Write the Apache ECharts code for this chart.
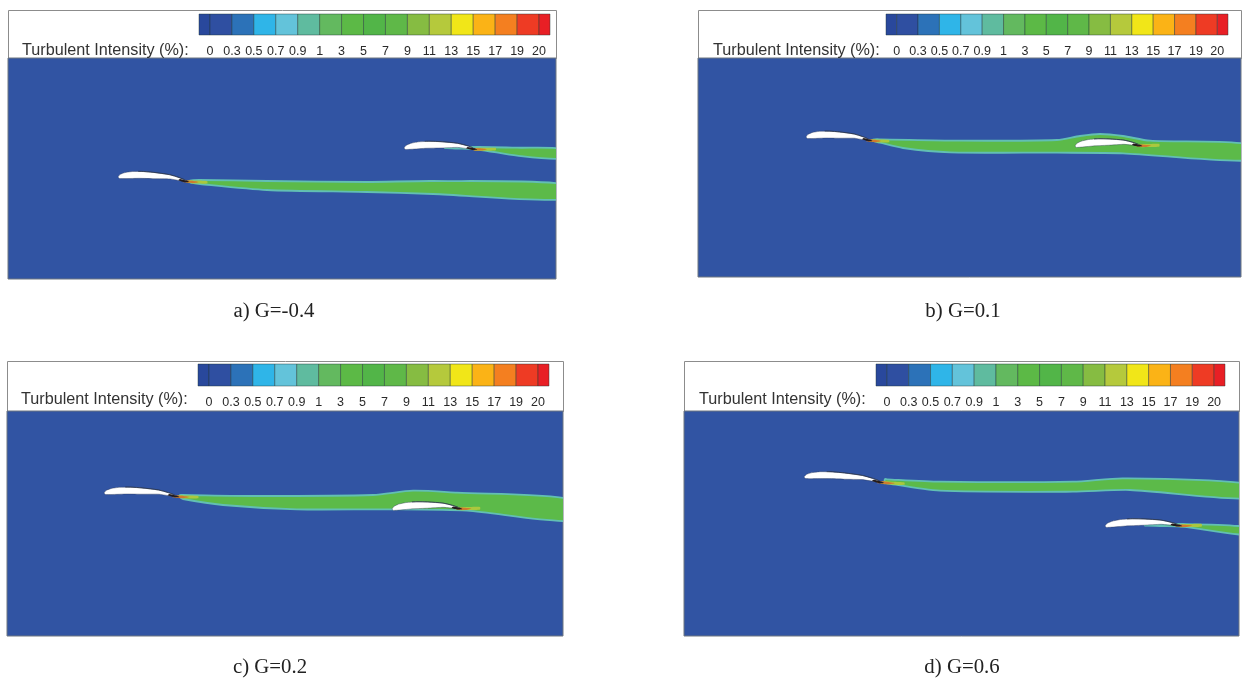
<!DOCTYPE html>
<html><head><meta charset="utf-8">
<style>html,body{margin:0;padding:0;background:#fff}#c{width:1246px;height:680px;filter:blur(0.45px)}</style>
<script src="https://cdn.jsdelivr.net/npm/echarts@6/dist/echarts.min.js"></script>
</head><body><div id="c"></div>
<script>
const scaleLabels = ['0','0.3','0.5','0.7','0.9','1','3','5','7','9','11','13','15','17','19','20'];
const bandColors = ['#29489c','#2f4fa1','#2c72b8','#2fb5e8','#63c3da','#5fbb9f','#63b95f','#5cb946','#52b548','#5fb848','#86bc42','#b5c93c','#f1e618','#fbb316','#f47f20','#ee3b24','#e81f25'];
const captions = ['a) G=-0.4','b) G=0.1','c) G=0.2','d) G=0.6'];
const scaleTitle = 'Turbulent Intensity (%):';

// Airfoil outline: fraction of chord along, offset from chord line
const foilUpper = [[0,0],[0.03,-2.8],[0.1,-5],[0.2,-6.5],[0.35,-7.2],[0.5,-7],[0.72,-5.8],[0.85,-3.6],[0.96,-0.8]];
const foilLower = [[0.85,-0.8],[0.72,-1.7],[0.5,-0.8],[0.3,-0.2],[0.1,1.1],[0.02,1.4]];

// Airfoil leading edge and tail as read per panel
const foilsA = [[118,177,190,182],[404,148,478,149.5]];
const foilsB = [[806,137,873,141],[1075,146,1143,146]];
const foilsC = [[104,493,180,497],[392,509,463,509]];
const foilsD = [[804,477,885,483],[1105,526,1183,526]];

// Wake contours as read per panel: upper edge then lower edge
const wakeA1Upper = [[190,180.5],[200,180],[267,181],[367,182],[433,181],[564,184]];
const wakeA1Lower = [[564,199.5],[433,194],[367,192],[267,190],[200,184],[190,182.5]];
const wakeA2Upper = [[478,147],[517,147.7],[564,149]];
const wakeA2Lower = [[564,158.6],[517,155.7],[478,149.5],[455,148.5],[445,148]];
const wakeB1Upper = [[873,139.5],[880,139.3],[957,140.7],[1057,140],[1080,136],[1100,134],[1123,136],[1150,140.7],[1249,144.3]];
const wakeB1Lower = [[1249,160.5],[1123,153.3],[1057,152.7],[950,152.3],[903,148],[880,142.7],[873,141]];
const wakeC1Upper = [[180,495],[183,495],[257,496],[373,495],[413,490.7],[457,492.7],[571,499.3]];
const wakeC1Lower = [[571,520.8],[467,510.7],[390,509.3],[297,509.3],[223,505],[183,499],[180,497]];
const wakeD1Upper = [[885,479],[887,479.3],[940,481.7],[1073,481.7],[1123,478.3],[1247,483.6]];
const wakeD1Lower = [[1247,498.5],[1130,490],[1073,491.7],[940,490.7],[887,483.3],[885,482]];
const wakeD2Upper = [[1183,524],[1247,527]];
const wakeD2Lower = [[1247,535],[1183,526.7],[1160,526],[1145,525.5]];

const panels = [
  {frame:[8,10,548,48],  bar:[199,14,351,21],  field:[8,58,548,221],  title:[22,43],  cap:[274,301], foils:foilsA, wakes:[[wakeA1Upper,wakeA1Lower],[wakeA2Upper,wakeA2Lower]]},
  {frame:[698,10,543,48],bar:[886,14,342,21],  field:[698,58,543,219],title:[713,43], cap:[963,301], foils:foilsB, wakes:[[wakeB1Upper,wakeB1Lower]]},
  {frame:[7,361,556,50], bar:[198,364,351,22], field:[7,411,556,225], title:[21,392], cap:[270,657], foils:foilsC, wakes:[[wakeC1Upper,wakeC1Lower]]},
  {frame:[684,361,555,50],bar:[876,364,349,22],field:[684,411,555,225],title:[699,392],cap:[962,657],foils:foilsD, wakes:[[wakeD1Upper,wakeD1Lower],[wakeD2Upper,wakeD2Lower]]}
];
const FIELD = '#3154a3';

function place(shape, f){
  const dx=f[2]-f[0], dy=f[3]-f[1];
  return shape.map(p=>[f[0]+p[0]*dx, f[1]+p[0]*dy+p[1]]);
}
const hotYellow = [[0.98,-1.6],[1.1,-1.9],[1.24,-2],[1.24,0.4],[1.1,1.1],[0.95,1.0]];
const hotOrange = [[0.92,-1.4],[1.02,-1.3],[1.12,-0.5],[1.04,1],[0.9,0.6]];
const hotDark = [[0.86,-2.4],[0.95,-1.2],[0.99,0],[0.93,0.6],[0.84,-1]];
const rearEdge = [[0.28,-7.1],[0.35,-7.3],[0.5,-7.1],[0.72,-5.9],[0.85,-3.7],[0.93,-1.8]];

const grids=[],xAxes=[],yAxes=[],series=[],titles=[],frames=[];
panels.forEach((p,k)=>{
  frames.push({type:'rect',z:-1,shape:{x:p.frame[0]+.5,y:p.frame[1]+.5,width:p.frame[2],height:p.frame[3]},style:{fill:'#fff',stroke:'#8c8c8c',lineWidth:1}});
  titles.push({text:scaleTitle,left:p.title[0],top:p.title[1],padding:0,textStyle:{fontFamily:'Liberation Sans',fontSize:16.2,fontWeight:'normal',color:'#333'}});
  titles.push({text:captions[k],left:p.cap[0],top:p.cap[1],textAlign:'center',padding:0,textStyle:{fontFamily:'Liberation Serif',fontSize:20.8,fontWeight:'normal',color:'#222'}});
  // colour scale
  const gi=grids.length;
  grids.push({left:p.bar[0],top:p.bar[1],width:p.bar[2],height:p.bar[3],containLabel:false});
  xAxes.push({gridIndex:gi,type:'value',min:-0.5,max:15.5,splitLine:{show:false},axisLine:{show:false},axisTick:{show:false},
    axisLabel:{show:true,customValues:scaleLabels.map((_,i)=>i),formatter:v=>scaleLabels[Math.round(v)],margin:10,fontFamily:'Liberation Sans',fontSize:12.5,color:'#2a2a2a',hideOverlap:false}});
  yAxes.push({gridIndex:gi,type:'value',min:0,max:1,show:false});
  series.push({type:'custom',xAxisIndex:gi,yAxisIndex:gi,silent:true,clip:false,
    data:bandColors.map((c,i)=>[i===0?-0.5:i-1,i===bandColors.length-1?15.5:i,1]),
    encode:{x:[0,1],y:2},
    renderItem:(params,api)=>{
      const a=api.coord([api.value(0),0]),b=api.coord([api.value(1),1]);
      return {type:'rect',shape:{x:a[0],y:b[1],width:b[0]-a[0],height:a[1]-b[1]},style:{fill:bandColors[params.dataIndex],stroke:'rgba(30,50,50,.55)',lineWidth:.8}};
    }});
  // field
  const fi=grids.length;
  grids.push({show:true,left:p.field[0],top:p.field[1],width:p.field[2],height:p.field[3],backgroundColor:FIELD,borderColor:'#6f7680',borderWidth:1,containLabel:false});
  xAxes.push({gridIndex:fi,type:'value',min:p.field[0],max:p.field[0]+p.field[2],show:false});
  yAxes.push({gridIndex:fi,type:'value',inverse:true,min:p.field[1],max:p.field[1]+p.field[3],show:false});
  const shapes=[];
  p.wakes.forEach(w=>shapes.push({pts:w[0].concat(w[1]),fill:'#5cba49',stroke:'#62bfb4',lw:1.8,smooth:0.25}));
  p.foils.forEach(f=>{
    shapes.push({pts:place(hotYellow,f),fill:'#aac83e',smooth:0.2});
    shapes.push({pts:place(hotOrange,f),fill:'#cf7a2e',smooth:0.2});
    shapes.push({pts:place(foilUpper.concat(foilLower),f),fill:'#fff',stroke:'#2b3550',lw:.4,smooth:0.12});
    shapes.push({pts:place(rearEdge,f),line:true,stroke:'#2a3348',lw:.8});
    shapes.push({pts:place(hotDark,f),fill:'#241c1c',smooth:0.2});
  });
  series.push({type:'custom',xAxisIndex:fi,yAxisIndex:fi,silent:true,clip:true,
    data:shapes.map(s=>s.pts[0]),encode:{x:0,y:1},
    renderItem:(params,api)=>{
      const s=shapes[params.dataIndex];
      const pts=s.pts.map(q=>api.coord(q));
      return s.line
       ? {type:'polyline',shape:{points:pts,smooth:0.3},style:{fill:null,stroke:s.stroke,lineWidth:s.lw}}
       : {type:'polygon',shape:{points:pts,smooth:s.smooth},style:{fill:s.fill,stroke:s.stroke||null,lineWidth:s.lw||0}};
    }});
});
const chart=echarts.init(document.getElementById('c'),null,{renderer:'canvas'});
chart.setOption({animation:false,backgroundColor:'#fff',title:titles,grid:grids,xAxis:xAxes,yAxis:yAxes,series,graphic:{elements:frames}});
</script></body></html>
